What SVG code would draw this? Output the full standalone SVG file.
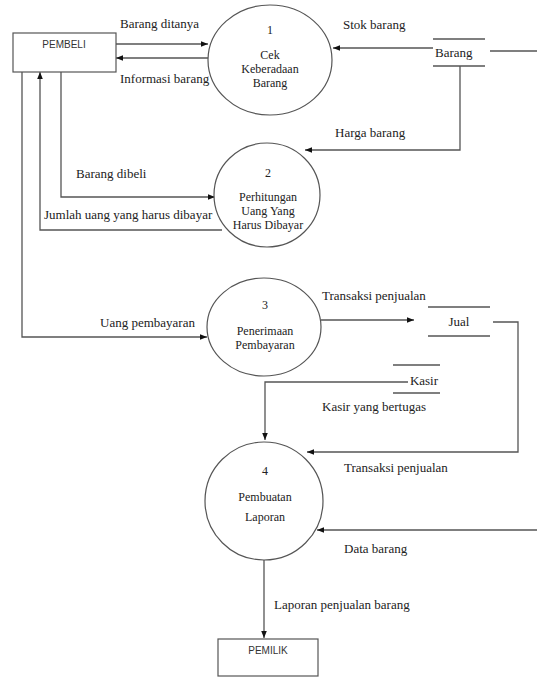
<svg xmlns="http://www.w3.org/2000/svg" width="537" height="683" viewBox="0 0 537 683">
<style>
.ln{fill:none;stroke:#555;stroke-width:1.3}
.nd{fill:#fff;stroke:#555;stroke-width:1.2}
.t{font-family:"Liberation Serif","Times New Roman",serif;font-size:13px;fill:#222}
.c{text-anchor:middle;font-size:12px}
.s{font-family:"Liberation Sans",Arial,sans-serif;font-size:10px;fill:#333;text-anchor:middle}
</style>
<defs>
<marker id="ah" viewBox="0 0 10 10" refX="10" refY="5" markerWidth="7" markerHeight="7" orient="auto" markerUnits="userSpaceOnUse"><path d="M0,1 L10,5 L0,9 z" fill="#111"/></marker>
</defs>
<rect width="537" height="683" fill="#fff"/>
<g id="connectors">
<path class="ln" d="M116,44 H208" marker-end="url(#ah)"/>
<path class="ln" d="M208,58 H116" marker-end="url(#ah)"/>
<path class="ln" d="M433,48 H333" marker-end="url(#ah)"/>
<path class="ln" d="M490,51 H537"/>
<path class="ln" d="M460,66 V150 H305" marker-end="url(#ah)"/>
<path class="ln" d="M61,72 V197 H215" marker-end="url(#ah)"/>
<path class="ln" d="M222,230 H40 V72" marker-end="url(#ah)"/>
<path class="ln" d="M22,72 V337 H207" marker-end="url(#ah)"/>
<path class="ln" d="M321,320 H414" marker-end="url(#ah)"/>
<path class="ln" d="M493,322 H518 V452 H307" marker-end="url(#ah)"/>
<path class="ln" d="M408,382 H265 V440" marker-end="url(#ah)"/>
<path class="ln" d="M537,530 H317" marker-end="url(#ah)"/>
<path class="ln" d="M264,560 V638" marker-end="url(#ah)"/>
</g>
<g id="labels">
<text class="t" x="120" y="28">Barang ditanya</text>
<text class="t" x="120" y="83">Informasi barang</text>
<text class="t" x="343" y="29">Stok barang</text>
<text class="t" x="335" y="137">Harga barang</text>
<text class="t" x="76" y="178">Barang dibeli</text>
<text class="t" x="44" y="219">Jumlah uang yang harus dibayar</text>
<text class="t" x="100" y="327">Uang pembayaran</text>
<text class="t" x="322" y="300">Transaksi penjualan</text>
<text class="t" x="322" y="411">Kasir yang bertugas</text>
<text class="t" x="344" y="472">Transaksi penjualan</text>
<text class="t" x="344" y="553">Data barang</text>
<text class="t" x="274" y="609">Laporan penjualan  barang</text>
</g>
<g id="pembeli">
<rect class="nd" x="13" y="33" width="103" height="39"/>
<text class="s" x="64" y="48">PEMBELI</text>
</g>
<g id="p1">
<ellipse class="nd" cx="270" cy="60" rx="62" ry="55"/>
<text class="t c" x="270" y="34">1</text>
<text class="t c" x="270" y="59">Cek</text>
<text class="t c" x="270" y="73">Keberadaan</text>
<text class="t c" x="270" y="87">Barang</text>
</g>
<g id="barang">
<path class="ln" d="M433,39 H485 M433,66 H485"/>
<text class="t" x="435" y="57">Barang</text>
</g>
<g id="p2">
<ellipse class="nd" cx="267" cy="195" rx="53" ry="52"/>
<text class="t c" x="268" y="177">2</text>
<text class="t c" x="268" y="201">Perhitungan</text>
<text class="t c" x="268" y="215">Uang Yang</text>
<text class="t c" x="268" y="229">Harus Dibayar</text>
</g>
<g id="p3">
<ellipse class="nd" cx="264" cy="327" rx="57" ry="49"/>
<text class="t c" x="265" y="309">3</text>
<text class="t c" x="265" y="335">Penerimaan</text>
<text class="t c" x="265" y="349">Pembayaran</text>
</g>
<g id="jual">
<path class="ln" d="M428,307 H490 M428,336 H490"/>
<text class="t" x="459" y="326" text-anchor="middle">Jual</text>
</g>
<g id="kasir">
<path class="ln" d="M393,365 H440 M393,393 H440"/>
<text class="t" x="424" y="385" text-anchor="middle">Kasir</text>
</g>
<g id="p4">
<ellipse class="nd" cx="264" cy="501" rx="59" ry="59"/>
<text class="t c" x="265" y="475">4</text>
<text class="t c" x="265" y="501">Pembuatan</text>
<text class="t c" x="265" y="521">Laporan</text>
</g>
<g id="pemilik">
<rect class="nd" x="218" y="639" width="100" height="37"/>
<text class="s" x="268" y="654">PEMILIK</text>
</g>
</svg>
